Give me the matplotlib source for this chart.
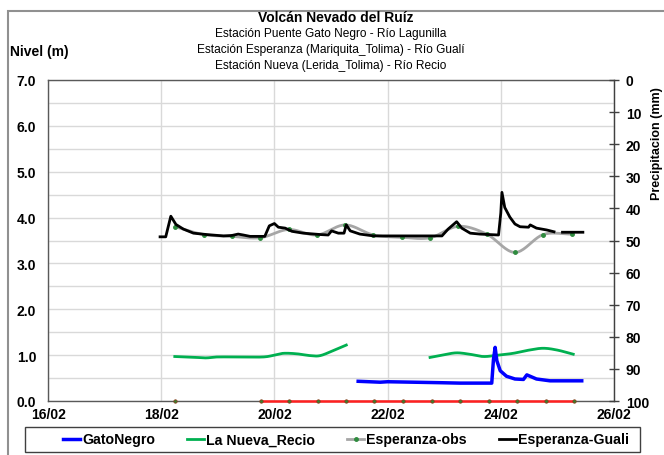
import numpy as np
import matplotlib
matplotlib.use("Agg")
import matplotlib.pyplot as plt
from matplotlib.lines import Line2D
from matplotlib.patches import Rectangle

plt.rcParams['font.family'] = ['Liberation Sans', 'DejaVu Sans']

# ---------------- data (day of February) ----------------
guali_days = [17.98, 18.08, 18.17, 18.26, 18.39, 18.57, 18.80, 19.10, 19.25, 19.36, 19.45, 19.57,
              19.83, 19.91, 20.00, 20.07, 20.19, 20.31, 20.51, 20.81, 20.95, 21.01, 21.13, 21.23,
              21.27, 21.34, 21.51, 21.75, 22.22, 22.96, 23.07, 23.22, 23.31, 23.46, 23.63, 23.96,
              24.00, 24.02, 24.07, 24.10, 24.16, 24.25, 24.34, 24.49, 24.52, 24.63, 24.81, 24.94,
              25.00, 25.09, 25.45]
guali_vals = [3.58, 3.58, 4.03, 3.85, 3.75, 3.66, 3.63, 3.60, 3.61, 3.64, 3.62, 3.59,
              3.59, 3.82, 3.87, 3.79, 3.77, 3.70, 3.66, 3.63, 3.62, 3.71, 3.66, 3.66,
              3.84, 3.71, 3.64, 3.60, 3.60, 3.60, 3.75, 3.91, 3.77, 3.66, 3.64, 3.62,
              4.10, 4.55, 4.22, 4.15, 4.01, 3.86, 3.80, 3.79, 3.84, 3.77, 3.73, 3.69,
              None, 3.68, 3.68]

obs_days = [18.25, 18.75, 19.25, 19.75, 20.25, 20.75, 21.25, 21.75, 22.25, 22.75, 23.25,
            23.75, 24.25, 24.75, 25.25]
obs_vals = [3.80, 3.63, 3.59, 3.56, 3.74, 3.62, 3.84, 3.62, 3.57, 3.56, 3.81,
            3.64, 3.24, 3.63, 3.64]

recio_days_1 = [18.24, 18.45, 18.63, 18.80, 18.98, 19.40, 19.80, 20.00, 20.16, 20.39, 20.63,
                20.81, 21.04, 21.27]
recio_vals_1 = [0.97, 0.96, 0.95, 0.94, 0.96, 0.96, 0.96, 1.00, 1.04, 1.03, 0.99,
                0.99, 1.10, 1.22]
recio_days_2 = [22.75, 23.00, 23.22, 23.45, 23.69, 23.95, 24.22, 24.50, 24.75, 25.00, 25.28]
recio_vals_2 = [0.95, 1.01, 1.05, 1.02, 0.97, 1.00, 1.04, 1.11, 1.15, 1.11, 1.02]

gato_days = [21.48, 21.87, 22.00, 22.45, 22.90, 23.28, 23.84, 23.87, 23.90, 23.93, 23.99,
             24.10, 24.25, 24.40, 24.46, 24.63, 24.87, 25.43]
gato_vals = [0.43, 0.41, 0.42, 0.41, 0.40, 0.39, 0.39, 0.90, 1.17, 0.88, 0.66,
             0.54, 0.48, 0.47, 0.57, 0.48, 0.44, 0.44]

# red series lying on the bottom of the plot (value 0 on the level axis)
bottom_days = [18.24, 19.00, 19.76, 20.26, 20.77, 21.27, 21.76, 22.27, 22.78, 23.28, 23.79,
               24.29, 24.80, 25.29]
bottom_vals = [0, None, 0, 0, 0, 0, 0, 0, 0, 0, 0, 0, 0, 0]

xtick_days = [16, 18, 20, 22, 24, 26]
xtick_labels = ['16/02', '18/02', '20/02', '22/02', '24/02', '26/02']
precip_ticks = [0, 10, 20, 30, 40, 50, 60, 70, 80, 90, 100]
title_lines = ['Estación Puente Gato Negro - Río Lagunilla',
               'Estación Esperanza (Mariquita_Tolima) - Río Gualí',
               'Estación Nueva (Lerida_Tolima) - Río Recio']
legend_labels = ['GatoNegro', 'La Nueva_Recio', 'Esperanza-obs', 'Esperanza-Guali']


def arr(v):
    return np.array([np.nan if a is None else a for a in v], dtype=float)


def smooth(xs, ys, n=20):
    """Catmull-Rom spline through the given points (Excel-like smoothed line)."""
    xs = np.asarray(xs, float)
    ys = np.asarray(ys, float)
    px = np.concatenate([[2 * xs[0] - xs[1]], xs, [2 * xs[-1] - xs[-2]]])
    py = np.concatenate([[2 * ys[0] - ys[1]], ys, [2 * ys[-1] - ys[-2]]])
    ox, oy = [], []
    t = np.linspace(0, 1, n, endpoint=False)
    for i in range(1, len(px) - 2):
        for P, out in ((px[i - 1:i + 3], ox), (py[i - 1:i + 3], oy)):
            a, b, c, d = P
            out.extend(0.5 * ((2 * b) + (-a + c) * t + (2 * a - 5 * b + 4 * c - d) * t ** 2
                              + (-a + 3 * b - 3 * c + d) * t ** 3))
    ox.append(xs[-1]); oy.append(ys[-1])
    return np.array(ox), np.array(oy)


fig = plt.figure(figsize=(6.64, 4.56), dpi=100)
fig.patch.set_facecolor('white')
W, H = 664, 456
ax = fig.add_axes([48 / W, 1 - 402 / H, (614 - 48) / W, (402 - 81) / H])

# frame around the chart
fig.add_artist(Rectangle((8 / W, -0.05), 1.0, 1 - 12 / H + 0.05, transform=fig.transFigure,
                         fill=False, edgecolor='#909090', linewidth=1.5))

ax.set_xlim(16, 26)
ax.set_ylim(0, 7)
ax.set_xticks(xtick_days)
ax.set_xticklabels(xtick_labels)
ax.set_yticks(np.arange(0, 7.01, 1.0))
ax.set_yticklabels([f'{v:.1f}' for v in np.arange(0, 7.01, 1.0)])
ax.set_yticks(np.arange(0.5, 7.0, 1.0), minor=True)
ax.grid(True, which='both', axis='y', color='#d9d9d9', linewidth=1.0)
ax.grid(True, which='major', axis='x', color='#d9d9d9', linewidth=1.0)
ax.set_axisbelow(True)
ax.tick_params(axis='both', which='both', length=0, labelsize=10)
ax.tick_params(axis='y', pad=8.5)
ax.tick_params(axis='x', pad=4)
for lab in ax.get_xticklabels() + ax.get_yticklabels():
    lab.set_fontweight('bold')
for s in ax.spines.values():
    s.set_color('#595959')
    s.set_linewidth(1.0)

# series
gx, gy = smooth(recio_days_1, recio_vals_1)
ax.plot(gx, gy, color='#00b050', lw=2, zorder=3)
gx, gy = smooth(recio_days_2, recio_vals_2)
ax.plot(gx, gy, color='#00b050', lw=2, zorder=3)

ax.plot(gato_days, gato_vals, color='#0000ff', lw=2.5, zorder=4)

ox, oy = smooth(obs_days, obs_vals)
ax.plot(ox, oy, color='#a6a6a6', lw=2, zorder=3)
ax.plot(obs_days, obs_vals, ls='none', marker='o', ms=2.5, color='#2e8b3e', zorder=3.5)

ax.plot(guali_days, arr(guali_vals), color='black', lw=2, zorder=5)

ax.plot(bottom_days, arr(bottom_vals), color='#ff2020', lw=1.8, marker='o', ms=2.5,
        markerfacecolor='#3a7d2e', markeredgecolor='#8b3a1a', markeredgewidth=0.5,
        clip_on=False, zorder=6)

# secondary (precipitation) axis
ax2 = ax.twinx()
ax2.set_ylim(100, 0)
ax2.set_yticks(precip_ticks)
ax2.tick_params(axis='y', direction='inout', length=7, width=1, labelsize=10, pad=5,
                color='#404040')
for lab in ax2.get_yticklabels():
    lab.set_fontweight('bold')
for s in ax2.spines.values():
    s.set_visible(False)
ax2.spines['right'].set_visible(True)
ax2.spines['right'].set_color('#404040')

# titles
cx = (48 + 614) / 2 / W
fig.text(336 / W, 1 - 18 / H, 'Volcán Nevado del Ruíz', ha='center', va='center',
         fontsize=10, fontweight='bold')
for i, t in enumerate(title_lines):
    fig.text(cx, 1 - (34 + 16 * i) / H, t, ha='center', va='center', fontsize=8.6)
fig.text(10 / W, 1 - 52 / H, 'Nivel (m)', ha='left', va='center', fontsize=10,
         fontweight='bold')
fig.text(663 / W, 1 - 144 / H, 'Precipitacion (mm)', ha='right', va='center',
         rotation=90, fontsize=9, fontweight='bold')

# legend (frame drawn separately)
fig.add_artist(Rectangle((25 / W, 1 - 453 / H), 615 / W, 25 / H, transform=fig.transFigure,
                         fill=False, edgecolor='#404040', linewidth=1.0))
handles = [Line2D([], [], color='#0000ff', lw=2.5),
           Line2D([], [], color='#00b050', lw=2),
           Line2D([], [], color='#a6a6a6', lw=2, marker='o', ms=2.5,
                  markerfacecolor='#2e8b3e', markeredgecolor='#2e8b3e'),
           Line2D([], [], color='black', lw=2)]
leg = fig.legend(handles, legend_labels, loc='center', ncol=4,
                 bbox_to_anchor=(346 / W, 1 - 440.5 / H),
                 frameon=False, handlelength=1.2, handletextpad=0.1,
                 columnspacing=2.3, prop={'size': 10.2, 'weight': 'bold'})

fig.savefig('out.png', dpi=100)
